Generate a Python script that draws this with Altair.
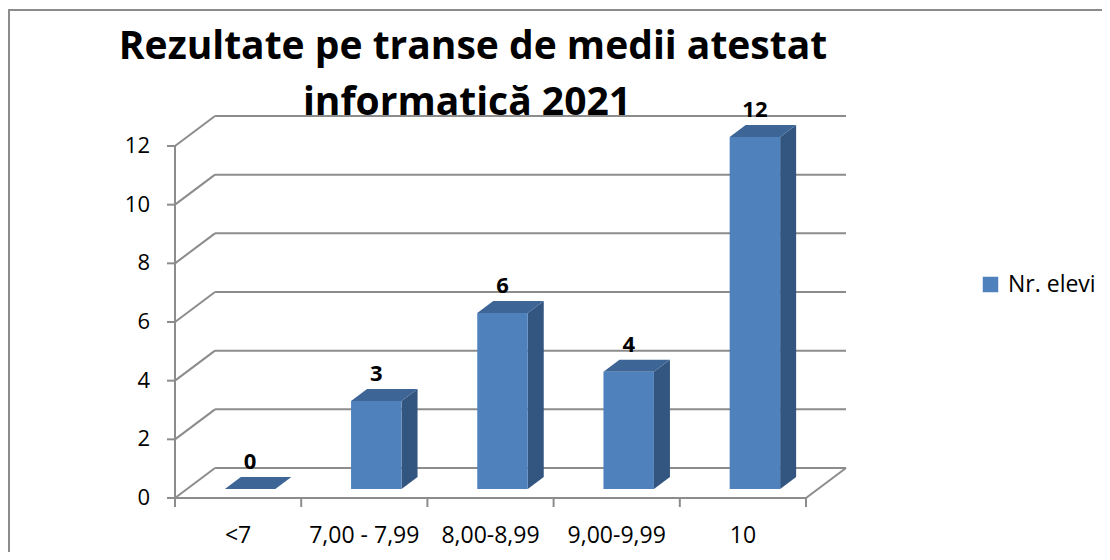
import altair as alt
import pandas as pd

# ---------------- data ----------------
categories = ["<7", "7,00 - 7,99", "8,00-8,99", "9,00-9,99", "10"]
values = [0, 3, 6, 4, 12]
y_ticks = [0, 2, 4, 6, 8, 10, 12]
series_name = "Nr. elevi"
title_lines = ["Rezultate pe transe de medii atestat", "informatică 2021"]

# ---------------- style / geometry ----------------
FONT = "Open Sans"
FRONT = "#4F81BD"
TOP = "#3D6596"
SIDE = "#325680"
GRID = "#8C8C8C"

FRONT_W, FRONT_H = 631, 352        # pixel size of front floor edge / front wall
DEPTH_X, DEPTH_Y = 40, 30          # pixel depth of 3D box
W, H = FRONT_W + DEPTH_X, FRONT_H + DEPTH_Y
N = len(categories)
YMAX = max(y_ticks)
DX = DEPTH_X / (FRONT_W / N)
DY = DEPTH_Y / (FRONT_H / YMAX)
F0, F1 = 0.3, 0.7                  # bar depth position (front/back fraction)
BAR_W = 0.4

xs = alt.Scale(domain=[0, N + DX], nice=False, zero=False)
ys = alt.Scale(domain=[0, YMAX + DY], nice=False, zero=False)

# ---------------- derived tables ----------------
grid_rows = []
for v in y_ticks:
    grid_rows.append(dict(x0=0, y0=v, x1=DX, y1=v + DY))
    grid_rows.append(dict(x0=DX, y0=v + DY, x1=N + DX, y1=v + DY))
grid_rows.append(dict(x0=N, y0=0, x1=N + DX, y1=DY))
grid_rows.append(dict(x0=0, y0=0, x1=N, y1=0))
grid_rows.append(dict(x0=0, y0=0, x1=0, y1=YMAX))
grid_df = pd.DataFrame(grid_rows)

bars, side, top = [], [], []
ddx, ddy = (F1 - F0) * DX, (F1 - F0) * DY
for i, (c, v) in enumerate(zip(categories, values)):
    xc = i + 0.5 + F0 * DX
    xl, xr = xc - BAR_W / 2, xc + BAR_W / 2
    yb, yt = F0 * DY, v + F0 * DY
    bars.append(dict(cat=c, value=v, series=series_name, xc=xc, xl=xl, xr=xr, yb=yb, yt=yt, xm=i + 0.5))
    side.append(dict(cat=c, x=xr, lo=yb, hi=yt))
    side.append(dict(cat=c, x=xr + ddx, lo=yb + ddy, hi=yt + ddy))
    top.append(dict(cat=c, y=yt, lo=xl, hi=xr))
    top.append(dict(cat=c, y=yt + ddy, lo=xl + ddx, hi=xr + ddx))
bars_df = pd.DataFrame(bars)
side_df = pd.DataFrame(side)
top_df = pd.DataFrame(top)
xt_df = pd.DataFrame({"xt": list(range(N + 1))})
yt_df = pd.DataFrame({"v": y_ticks})
one = pd.DataFrame({"a": [0]})

# ---------------- layers ----------------
frame = alt.Chart(one).mark_rect(filled=False, stroke=GRID, strokeWidth=2).encode(
    x=alt.value(-166), x2=alt.value(980), y=alt.value(-106), y2=alt.value(500))

grid = alt.Chart(grid_df).mark_rule(color=GRID, strokeWidth=2).encode(
    x=alt.X("x0:Q", scale=xs, axis=None), x2="x1:Q",
    y=alt.Y("y0:Q", scale=ys, axis=None), y2="y1:Q")

xticks = alt.Chart(xt_df).mark_rule(color=GRID, strokeWidth=2).encode(
    x=alt.X("xt:Q", scale=xs, axis=None), y=alt.value(H), y2=alt.value(H + 9))

yticks = alt.Chart(yt_df).mark_rule(color=GRID, strokeWidth=2).encode(
    y=alt.Y("v:Q", scale=ys, axis=None), x=alt.value(-8), x2=alt.value(0))

ylabels = alt.Chart(yt_df).mark_text(font=FONT, fontSize=22, align="right", baseline="middle", color="black").encode(
    y=alt.Y("v:Q", scale=ys, axis=None), x=alt.value(-25), text="v:Q")

xlabels = alt.Chart(bars_df).mark_text(font=FONT, fontSize=23, align="center", baseline="middle", color="black").encode(
    x=alt.X("xm:Q", scale=xs, axis=None), y=alt.value(H + 38), text="cat:N")

side_l = alt.Chart(side_df).mark_area(orient="vertical", color=SIDE).encode(
    x=alt.X("x:Q", scale=xs, axis=None),
    y=alt.Y("hi:Q", scale=ys, axis=None, stack=None), y2="lo:Q", detail="cat:N")

top_l = alt.Chart(top_df).mark_area(orient="horizontal", color=TOP).encode(
    y=alt.Y("y:Q", scale=ys, axis=None),
    x=alt.X("hi:Q", scale=xs, axis=None, stack=None), x2="lo:Q", detail="cat:N")

front = alt.Chart(bars_df).mark_rect().encode(
    x=alt.X("xl:Q", scale=xs, axis=None), x2="xr:Q",
    y=alt.Y("yb:Q", scale=ys, axis=None), y2="yt:Q",
    color=alt.Color("series:N", scale=alt.Scale(domain=[series_name], range=[FRONT]),
                    legend=alt.Legend(title=None, orient="none", legendX=804, legendY=157,
                                      symbolType="square", symbolSize=240, symbolStrokeWidth=0,
                                      labelFont=FONT, labelFontSize=23, labelColor="black",
                                      labelOffset=6)))

vlabels = alt.Chart(bars_df).mark_text(font=FONT, fontSize=22, fontWeight="bold", align="center",
                                      baseline="middle", dy=-27, color="black").encode(
    x=alt.X("xc:Q", scale=xs, axis=None), y=alt.Y("yt:Q", scale=ys, axis=None), text="value:Q")

t1 = alt.Chart(one).mark_text(font=FONT, fontSize=39, fontWeight="bold", align="center",
                              baseline="alphabetic", color="black", text=title_lines[0]).encode(
    x=alt.value(298), y=alt.value(-57))
t2 = alt.Chart(one).mark_text(font=FONT, fontSize=39, fontWeight="bold", align="center",
                              baseline="alphabetic", color="black", text=title_lines[1]).encode(
    x=alt.value(292), y=alt.value(-1))

chart = alt.layer(frame, grid, xticks, yticks, ylabels, xlabels, side_l, top_l, front, vlabels, t1, t2).properties(
    width=W, height=H,
    autosize=alt.AutoSizeParams(type="none"),
    padding={"left": 167, "top": 108, "right": 1094 - 167 - W, "bottom": 544 - 108 - H},
    background="white",
).configure_view(stroke=None)

chart.save("out.html", embed_options={"renderer": "svg", "actions": False})
